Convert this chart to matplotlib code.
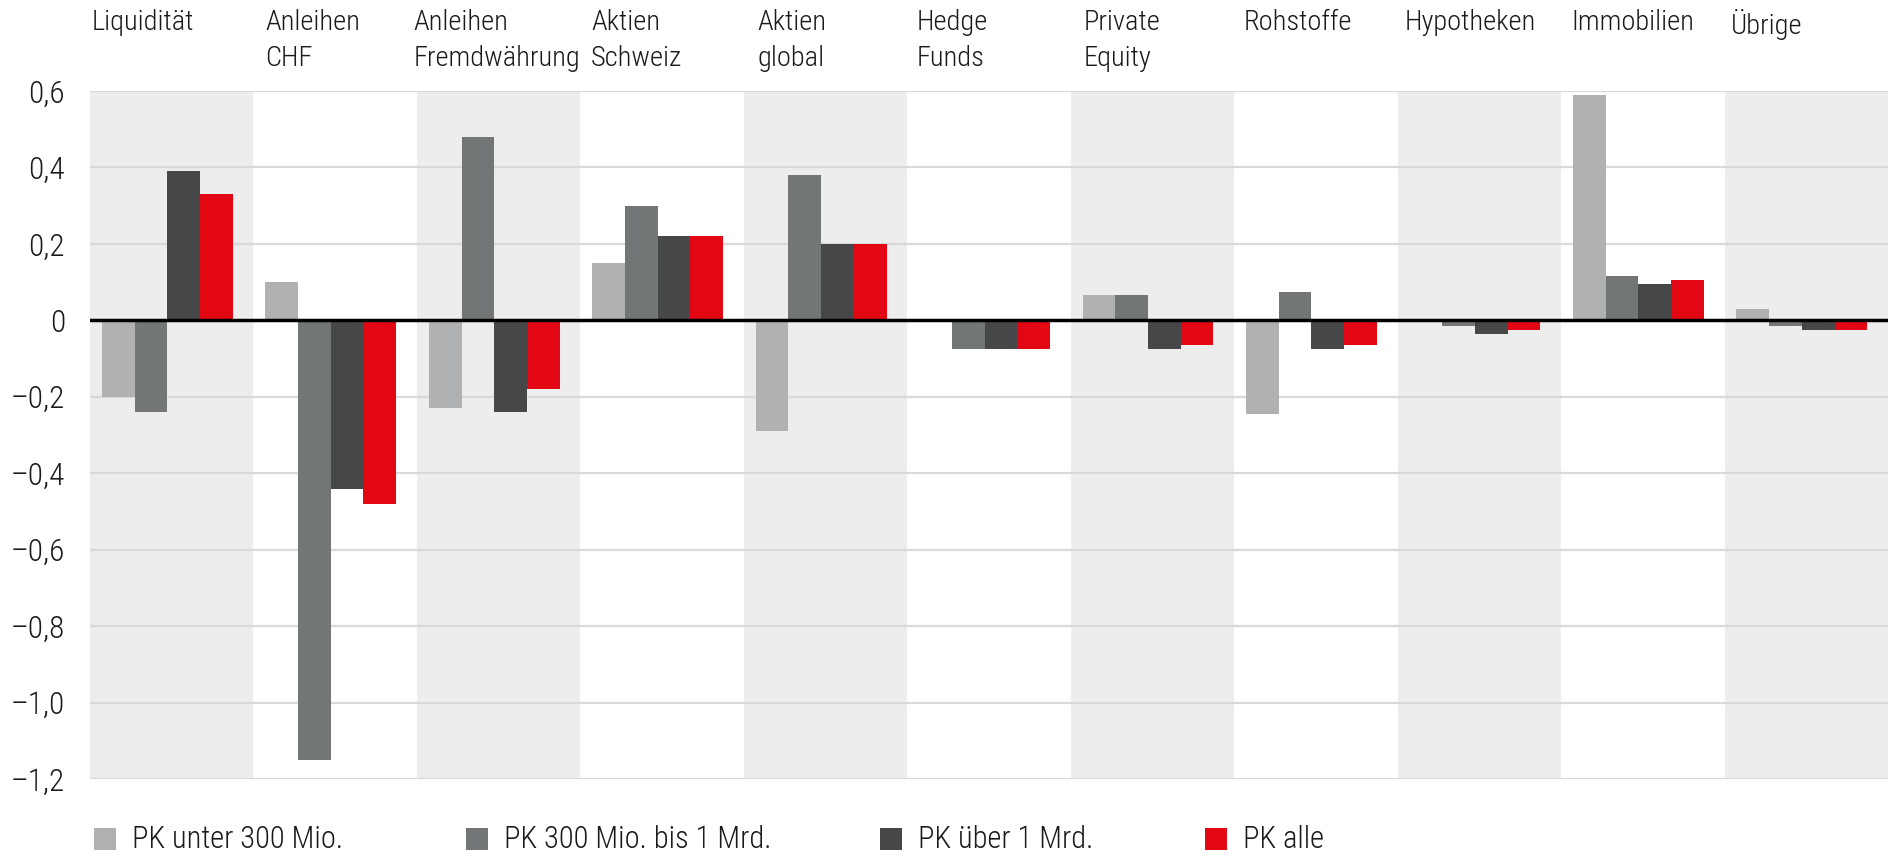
import matplotlib
matplotlib.use("Agg")
import matplotlib.pyplot as plt
from matplotlib.patches import Rectangle
from matplotlib.transforms import blended_transform_factory
import numpy as np

plt.rcParams['font.family'] = ['Roboto Condensed', 'Roboto', 'DejaVu Sans']
plt.rcParams['font.weight'] = 'light'

categories = ["Liquidität", "Anleihen\nCHF", "Anleihen\nFremdwährung", "Aktien\nSchweiz",
              "Aktien\nglobal", "Hedge\nFunds", "Private\nEquity", "Rohstoffe",
              "Hypotheken", "Immobilien", "Übrige"]
series_names = ["PK unter 300 Mio.", "PK 300 Mio. bis 1 Mrd.", "PK über 1 Mrd.", "PK alle"]
under_300 = [-0.20, 0.10, -0.23, 0.15, -0.29, 0.00, 0.065, -0.245, 0.00, 0.59, 0.03]
mid_300_1000 = [-0.24, -1.15, 0.48, 0.30, 0.38, -0.075, 0.065, 0.075, -0.015, 0.115, -0.015]
over_1000 = [0.39, -0.44, -0.24, 0.22, 0.20, -0.075, -0.075, -0.075, -0.035, 0.095, -0.025]
all_pk = [0.33, -0.48, -0.18, 0.22, 0.20, -0.075, -0.065, -0.065, -0.025, 0.105, -0.025]
yticks = [0.6, 0.4, 0.2, 0, -0.2, -0.4, -0.6, -0.8, -1.0, -1.2]

colors = ["#AFB1B3", "#737677", "#464749", "#E30613"]
series = [under_300, mid_300_1000, over_1000, all_pk]

W, H = 1891, 855
fig = plt.figure(figsize=(W / 100, H / 100), dpi=100)
ax = fig.add_axes([90 / W, 1 - 779 / H, 1798 / W, 688 / H])

x = np.arange(len(categories))
w = 0.2
for i in range(len(categories)):
    if i % 2 == 0:
        ax.axvspan(i - 0.5, i + 0.5, color="#EDEDED", zorder=0, lw=0)

for t in yticks:
    if t != 0:
        ax.axhline(t, color="#D9D9D9", lw=1.6, zorder=1)

for j, (vals, c) in enumerate(zip(series, colors)):
    ax.bar(x + (j - 1.5) * w - 0.027, vals, width=w, color=c, zorder=2, lw=0)

ax.axhline(0, color="black", lw=2.5, zorder=3)

ax.set_xlim(-0.5, len(categories) - 0.5)
ax.set_ylim(-1.2, 0.6)
ax.set_xticks([])
ax.set_yticks(yticks)
ax.set_yticklabels([("–" if t < 0 else "") + ("%.1f" % abs(t)).replace(".", ",") if t != 0 else "0"
                    for t in yticks], fontsize=22.5, color="#1a1a1a")
ax.tick_params(axis="y", length=0, pad=18)
for s in ax.spines.values():
    s.set_visible(False)

# category names above the plot area (left aligned near the first bar)
label_shift = [-0.49, -0.43, -0.52, -0.435, -0.415, -0.44, -0.42, -0.445, -0.455, -0.44, -0.46]
trans = blended_transform_factory(ax.transData, fig.transFigure)
for i, lab in enumerate(categories):
    ax.text(i + label_shift[i], 0.99, lab, transform=trans, ha="left", va="top",
            fontsize=20.5, color="#1a1a1a", linespacing=1.45)

# legend drawn by hand so the entries sit where they do in the original
legend_x = [94, 466, 880, 1205]
for lx, name, c in zip(legend_x, series_names, colors):
    fig.add_artist(Rectangle((lx / W, 5 / H), 22 / W, 22 / H, transform=fig.transFigure,
                             facecolor=c, edgecolor="none"))
    fig.text((lx + 38) / W, 16 / H, name, ha="left", va="center", fontsize=22,
             color="#1a1a1a")

fig.savefig("out.png", dpi=100)
